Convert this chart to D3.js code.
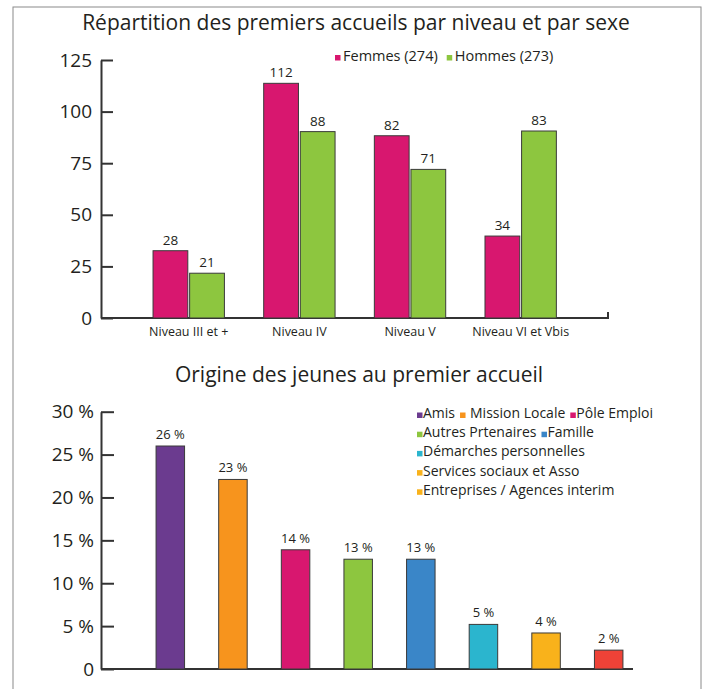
<!DOCTYPE html>
<html lang="fr">
<head>
<meta charset="utf-8">
<script src="https://cdn.jsdelivr.net/npm/d3@7"></script>
<style>
  body { margin: 0; background: #fff; }
  svg { display: block; font-family: 'Open Sans', sans-serif; }
  .axis path, .axis line { stroke: #333; }
  .axis text { fill: #231f20; }
</style>
</head>
<body>
<div id="chart"></div>
<script>
// Répartition par niveau et par sexe
const niveaux = ['Niveau III et +', 'Niveau IV', 'Niveau V', 'Niveau VI et Vbis']
const sexes = ['Femmes (274)', 'Hommes (273)']
const femmesLabels = ['28', '112', '82', '34']
const hommesLabels = ['21', '88', '71', '83']
// hauteurs des barres telles que dessinées
const femmes = [32.6, 113.7, 88.3, 39.7]
const hommes = [21.7, 90.3, 72, 90.6]
const ticksNiveau = [0, 25, 50, 75, 100, 125]

// Origine des jeunes
const origines = ['Amis', 'Mission Locale', 'Pôle Emploi', 'Autres Prtenaires', 'Famille',
  'Démarches personnelles', 'Services sociaux et Asso', 'Entreprises / Agences interim']
const origineLabels = ['26 %', '23 %', '14 %', '13 %', '13 %', '5 %', '4 %', '2 %']
const origineValeurs = [26, 22.1, 13.9, 12.8, 12.8, 5.2, 4.2, 2.2]
const ticksOrigine = [0, 5, 10, 15, 20, 25, 30]
const legendeLignes = [
  ['Amis', 'Mission Locale', 'Pôle Emploi'],
  ['Autres Prtenaires', 'Famille'],
  ['Démarches personnelles'],
  ['Services sociaux et Asso'],
  ['Entreprises / Agences interim']
]

const couleursSexe = ['#d8176f', '#8dc63f']
const couleursOrigine = ['#6b3b8f', '#f7941d', '#d8176f', '#8dc63f', '#3a86c8', '#2bb5ce', '#f9b21b', '#ee4237']
const couleursLegende = ['#6b3b8f', '#f7941d', '#d8176f', '#8dc63f', '#3a86c8', '#2bb5ce', '#f9b21b', '#f9b21b']

const W = 712
const H = 689
const svg = d3.select('#chart').append('svg')
  .attr('width', W)
  .attr('height', H)

// cadre
svg.append('rect')
  .attr('x', 13).attr('y', 7)
  .attr('width', 688).attr('height', 720)
  .attr('fill', 'none')
  .attr('stroke', '#8a8a8a')

// ---------- graphique 1 ----------
const y1 = d3.scaleLinear().domain([0, 125]).range([318, 60])
const x0 = d3.scaleBand().domain(niveaux).range([133.4, 576])
  .paddingInner(0.355).paddingOuter(0.1775)
const x1 = d3.scaleBand().domain(sexes).range([0, x0.bandwidth()]).paddingInner(0.05)

svg.append('text')
  .attr('x', 356).attr('y', 30)
  .attr('text-anchor', 'middle')
  .attr('font-size', 21)
  .attr('fill', '#231f20')
  .text('Répartition des premiers accueils par niveau et par sexe')

svg.append('g')
  .attr('class', 'axis')
  .attr('transform', 'translate(101,0)')
  .call(d3.axisLeft(y1).tickValues(ticksNiveau).tickSize(-12).tickSizeOuter(0).tickPadding(9))
  .attr('font-family', null)
  .call(g => g.selectAll('path, line').attr('stroke-width', 2))
  .call(g => g.selectAll('text').attr('font-size', 19))

const gx1 = svg.append('g')
  .attr('class', 'axis')
  .attr('transform', `translate(0,${y1(0)})`)
  .call(d3.axisBottom(x0).tickSize(0).tickPadding(9))
  .attr('font-family', null)
gx1.select('.domain').remove()
gx1.selectAll('text').attr('font-size', 12.5)
gx1.append('path')
  .attr('d', `M101,0H608v-6`)
  .attr('fill', 'none')
  .attr('stroke', '#333')
  .attr('stroke-width', 2)

const series = [
  { nom: sexes[0], valeurs: femmes, labels: femmesLabels, couleur: couleursSexe[0] },
  { nom: sexes[1], valeurs: hommes, labels: hommesLabels, couleur: couleursSexe[1] }
]

series.forEach(s => {
  const g = svg.append('g')
  g.selectAll('rect')
    .data(niveaux)
    .join('rect')
    .attr('x', (d, i) => x0(d) + x1(s.nom))
    .attr('y', (d, i) => y1(s.valeurs[i]))
    .attr('width', x1.bandwidth())
    .attr('height', (d, i) => y1(0) - y1(s.valeurs[i]))
    .attr('fill', s.couleur)
    .attr('stroke', '#3a3a3a')
    .attr('stroke-width', 1)
  g.selectAll('text')
    .data(niveaux)
    .join('text')
    .attr('x', (d, i) => x0(d) + x1(s.nom) + x1.bandwidth() / 2)
    .attr('y', (d, i) => y1(s.valeurs[i]) - 6)
    .attr('text-anchor', 'middle')
    .attr('font-size', 13.5)
    .attr('fill', '#231f20')
    .text((d, i) => s.labels[i])
})

// légende 1
let lx = 335
sexes.forEach((nom, i) => {
  svg.append('rect')
    .attr('x', lx).attr('y', 55)
    .attr('width', 5.5).attr('height', 5.5)
    .attr('fill', couleursSexe[i])
  const t = svg.append('text')
    .attr('x', lx + 8).attr('y', 60.5)
    .attr('font-size', 14.5)
    .attr('fill', '#231f20')
    .text(nom)
  lx += 8 + t.node().getComputedTextLength() + 9
})

// ---------- graphique 2 ----------
const y2 = d3.scaleLinear().domain([0, 30]).range([669, 411.7])
const x2 = d3.scaleBand().domain(origines).range([139, 640])
  .paddingInner(0.545).paddingOuter(0.2725)

svg.append('text')
  .attr('x', 359).attr('y', 381.5)
  .attr('text-anchor', 'middle')
  .attr('font-size', 21)
  .attr('fill', '#231f20')
  .text('Origine des jeunes au premier accueil')

svg.append('g')
  .attr('class', 'axis')
  .attr('transform', 'translate(101,0)')
  .call(d3.axisLeft(y2).tickValues(ticksOrigine).tickSize(-13).tickSizeOuter(0).tickPadding(7)
    .tickFormat(d => d === 0 ? '0' : d + ' %'))
  .attr('font-family', null)
  .call(g => g.selectAll('path, line').attr('stroke-width', 2))
  .call(g => g.selectAll('text').attr('font-size', 19))

svg.append('path')
  .attr('d', `M101,${y2(0)}H633`)
  .attr('fill', 'none')
  .attr('stroke', '#333')
  .attr('stroke-width', 2)

svg.append('g')
  .selectAll('rect')
  .data(origines)
  .join('rect')
  .attr('x', d => x2(d))
  .attr('y', (d, i) => y2(origineValeurs[i]))
  .attr('width', x2.bandwidth())
  .attr('height', (d, i) => y2(0) - y2(origineValeurs[i]))
  .attr('fill', (d, i) => couleursOrigine[i])
  .attr('stroke', '#3a3a3a')
  .attr('stroke-width', 1)

svg.append('g')
  .selectAll('text')
  .data(origines)
  .join('text')
  .attr('x', d => x2(d) + x2.bandwidth() / 2)
  .attr('y', (d, i) => y2(origineValeurs[i]) - 7)
  .attr('text-anchor', 'middle')
  .attr('font-size', 13)
  .attr('fill', '#231f20')
  .text((d, i) => origineLabels[i])

// légende 2
legendeLignes.forEach((ligne, r) => {
  let x = 417
  const yb = 418 + r * 19.2
  ligne.forEach(nom => {
    const i = origines.indexOf(nom)
    svg.append('rect')
      .attr('x', x).attr('y', yb - 5.5)
      .attr('width', 5.5).attr('height', 5.5)
      .attr('fill', couleursLegende[i])
    const gap = nom === 'Mission Locale' ? 10 : 6
    const t = svg.append('text')
      .attr('x', x + gap).attr('y', yb)
      .attr('font-size', 14)
      .attr('fill', '#231f20')
      .text(nom)
    x += gap + t.node().getComputedTextLength() + 5
  })
})
</script>
</body>
</html>
